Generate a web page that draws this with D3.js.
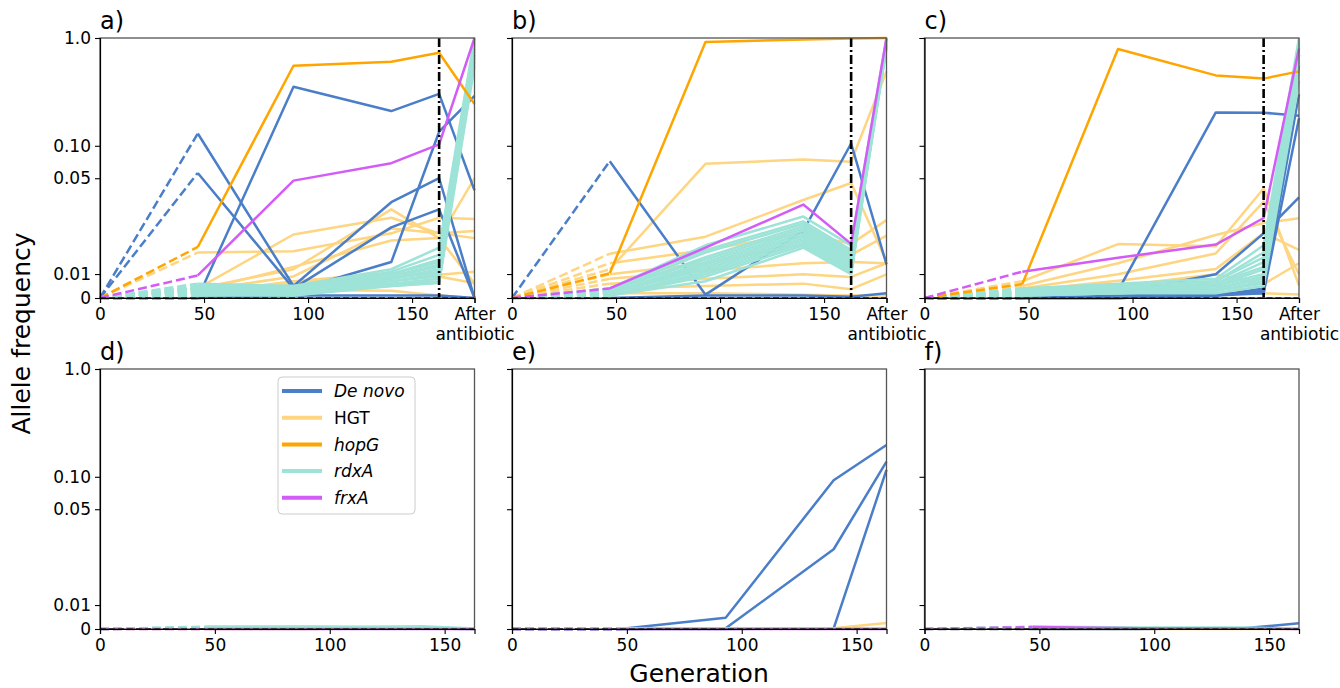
<!DOCTYPE html>
<html>
<head>
<meta charset="utf-8">
<script src="https://cdn.jsdelivr.net/npm/d3@7"></script>
<style>
  body { margin: 0; background: #fff; }
  text { font-family: "DejaVu Sans", sans-serif; }
</style>
</head>
<body>
<svg id="chart" width="1340" height="688"></svg>
<script>
// generations sampled; 180 stands for "After antibiotic"
const gensTop = [0, 47, 93, 140, 163, 180];
const gensBottom = [0, 47, 93, 140, 163];
const antibioticGen = 163;
const yTicks = [0, 0.01, 0.05, 0.1, 1];
const yTickLabels = ["0", "0.01", "0.05", "0.10", "1.0"];
const xTicksTop = [0, 50, 100, 150, 180];
const xTicksBottom = [0, 50, 100, 150];

// panel a
const aDeNovo = [
  [0, 0.13, 0.005, 0.04, 0.05, 0],
  [0, 0.056, 0.004, 0.0295, 0.037, 0],
  [0, 0, 0.353, 0.21, 0.303, 0.045],
  [0, 0, 0.003, 0.015, 0.135, 0.29],
  [0, 0, 0.001, 0.001, 0.001, 0]
];
const aHGT = [
  [0, 0.019, 0.0195, 0.027, 0.0335, 0.033],
  [0, 0.004, 0.0265, 0.0335, 0.027, 0.028],
  [0, 0.004, 0.012, 0.037, 0.025, 0.05],
  [0, 0.003, 0.009, 0.029, 0.027, 0.025],
  [0, 0.003, 0.013, 0.024, 0.025, 0.006],
  [0, 0.002, 0.006, 0.0105, 0.0097, 0.011],
  [0, 0.002, 0.0033, 0.003, 0.001, 0],
  [0, 0.002, 0.007, 0.0105, 0.009, 0.0062]
];
const aHopG = [[0, 0.0213, 0.553, 0.602, 0.73, 0.244]];
const aRdxA = [
  [0, 0.006, 0.005, 0.012, 0.021, 1.0],
  [0, 0.005, 0.004, 0.011, 0.018, 0.95],
  [0, 0.005, 0.005, 0.010, 0.016, 0.9],
  [0, 0.004, 0.004, 0.010, 0.015, 0.85],
  [0, 0.004, 0.003, 0.009, 0.014, 0.8],
  [0, 0.004, 0.004, 0.009, 0.013, 0.75],
  [0, 0.003, 0.003, 0.008, 0.012, 0.7],
  [0, 0.003, 0.003, 0.008, 0.011, 0.65],
  [0, 0.003, 0.002, 0.007, 0.010, 0.6],
  [0, 0.002, 0.002, 0.007, 0.009, 0.9],
  [0, 0.002, 0.002, 0.006, 0.008, 0.8],
  [0, 0.002, 0.001, 0.006, 0.007, 0.7],
  [0, 0.001, 0.001, 0.005, 0.0065, 0.95],
  [0, 0.001, 0.002, 0.005, 0.0063, 0.55]
];
const aFrxA = [[0, 0.0094, 0.049, 0.069, 0.103, 1.0]];

// panel b
const bDeNovo = [
  [0, 0.072, 0.0014, 0.028, 0.105, 0.014],
  [0, 0, 0.001, 0.001, 0.0005, 0.002]
];
const bHGT = [
  [0, 0.012, 0.068, 0.0747, 0.071, 0.49],
  [0, 0.0185, 0.0256, 0.0409, 0.048, 0.0153],
  [0, 0.0145, 0.02, 0.027, 0.0226, 0.0325],
  [0, 0.0099, 0.0145, 0.0225, 0.018, 0.026],
  [0, 0.008, 0.0115, 0.0145, 0.015, 0.0145],
  [0, 0.006, 0.008, 0.0099, 0.0088, 0.0145],
  [0, 0.004, 0.005, 0.006, 0.0037, 0.0099],
  [0, 0.002, 0.002, 0.0014, 0.001, 0.001]
];
const bHopG = [[0, 0.0103, 0.918, 0.97, 0.99, 1.0]];
const bRdxA = [
  [0, 0.004, 0.022, 0.034, 0.022, 1.0],
  [0, 0.004, 0.020, 0.032, 0.020, 0.97],
  [0, 0.003, 0.019, 0.031, 0.019, 0.95],
  [0, 0.003, 0.017, 0.030, 0.018, 0.92],
  [0, 0.003, 0.016, 0.029, 0.017, 0.9],
  [0, 0.002, 0.015, 0.028, 0.016, 0.88],
  [0, 0.002, 0.014, 0.027, 0.015, 0.86],
  [0, 0.002, 0.013, 0.026, 0.014, 0.84],
  [0, 0.002, 0.012, 0.025, 0.013, 0.82],
  [0, 0.001, 0.011, 0.024, 0.012, 0.8],
  [0, 0.001, 0.010, 0.023, 0.011, 0.9],
  [0, 0.001, 0.009, 0.022, 0.010, 0.95],
  [0, 0.001, 0.007, 0.021, 0.010, 0.85]
];
const bFrxA = [[0, 0.004, 0.021, 0.039, 0.0226, 1.0]];

// panel c
const cDeNovo = [
  [0, 0, 0.003, 0.204, 0.203, 0.19],
  [0, 0, 0.002, 0.0099, 0.027, 0.042],
  [0, 0, 0, 0.001, 0.004, 0.55],
  [0, 0, 0, 0.001, 0.003, 0.3],
  [0, 0, 0.001, 0.002, 0.002, 0.7],
  [0, 0, 0, 0.001, 0.002, 0.18]
];
const cHGT = [
  [0, 0.007, 0.0225, 0.0216, 0.0457, 0.0052],
  [0, 0.005, 0.0145, 0.0263, 0.0313, 0.0333],
  [0, 0.004, 0.0099, 0.0186, 0.0402, 0.0099],
  [0, 0.003, 0.0072, 0.0121, 0.0271, 0.0201],
  [0, 0.002, 0.005, 0.0099, 0.0058, 0.0145],
  [0, 0.001, 0.003, 0.005, 0.002, 0.0015]
];
const cHopG = [[0, 0.0058, 0.79, 0.45, 0.42, 0.49]];
const cRdxA = [
  [0, 0.004, 0.006, 0.008, 0.022, 1.0],
  [0, 0.004, 0.005, 0.007, 0.019, 0.95],
  [0, 0.003, 0.005, 0.007, 0.017, 0.9],
  [0, 0.003, 0.004, 0.006, 0.015, 0.85],
  [0, 0.003, 0.004, 0.006, 0.013, 0.8],
  [0, 0.002, 0.004, 0.005, 0.012, 0.75],
  [0, 0.002, 0.003, 0.005, 0.010, 0.7],
  [0, 0.002, 0.003, 0.004, 0.009, 0.65],
  [0, 0.002, 0.003, 0.004, 0.008, 0.6],
  [0, 0.001, 0.002, 0.003, 0.007, 0.5],
  [0, 0.001, 0.002, 0.003, 0.006, 0.9],
  [0, 0.001, 0.002, 0.002, 0.005, 0.4]
];
const cFrxA = [[0, 0.011, 0.0168, 0.0223, 0.0334, 0.80]];

// panels d, e, f (no antibiotic)
const dDeNovo = [[0, 0.0004, 0.0006, 0.0002, 0]];
const dHGT = [[0, 0, 0, 0.0008, 0]];
const dRdxA = [
  [0, 0.001, 0.001, 0.0003, 0],
  [0, 0.0008, 0.0009, 0.0008, 0],
  [0, 0.0005, 0.0006, 0.0012, 0.0002]
];
const dFrxA = [[0, 0, 0, 0, 0]];
const eDeNovo = [
  [0, 0, 0.0047, 0.093, 0.197],
  [0, 0, 0.0003, 0.0333, 0.138],
  [0, 0, 0, 0.0003, 0.116]
];
const eHGT = [[0, 0, 0.0003, 0.0003, 0.0025]];
const eRdxA = [[0, 0.0003, 0.0003, 0.0003, 0.0002]];
const eFrxA = [[0, 0, 0, 0, 0]];
const fDeNovo = [[0, 0, 0, 0.0004, 0.0024]];
const fHGT = [[0, 0, 0, 0, 0]];
const fRdxA = [[0, 0.001, 0.0006, 0.0006, 0]];
const fFrxA = [[0, 0.0008, 0.0003, 0.0002, 0]];

const legendNames = ["De novo", "HGT", "hopG", "rdxA", "frxA"];
const legendKeys = ["deNovo", "hgt", "hopG", "rdxA", "frxA"];
const colors = { deNovo: "#4a7ec8", hgt: "#fed581", hopG: "#ffa500", rdxA: "#9ee3d8", frxA: "#d35cf6" };
const drawOrder = ["hgt", "deNovo", "rdxA", "hopG", "frxA"];

const panels = [
  { label: "a)", col: 0, row: 0, gens: gensTop, deNovo: aDeNovo, hgt: aHGT, hopG: aHopG, rdxA: aRdxA, frxA: aFrxA },
  { label: "b)", col: 1, row: 0, gens: gensTop, deNovo: bDeNovo, hgt: bHGT, hopG: bHopG, rdxA: bRdxA, frxA: bFrxA },
  { label: "c)", col: 2, row: 0, gens: gensTop, deNovo: cDeNovo, hgt: cHGT, hopG: cHopG, rdxA: cRdxA, frxA: cFrxA },
  { label: "d)", col: 0, row: 1, gens: gensBottom, deNovo: dDeNovo, hgt: dHGT, hopG: [], rdxA: dRdxA, frxA: dFrxA },
  { label: "e)", col: 1, row: 1, gens: gensBottom, deNovo: eDeNovo, hgt: eHGT, hopG: [], rdxA: eRdxA, frxA: eFrxA },
  { label: "f)", col: 2, row: 1, gens: gensBottom, deNovo: fDeNovo, hgt: fHGT, hopG: [], rdxA: fRdxA, frxA: fFrxA }
];

// matplotlib-style symlog, linthresh 0.05, linscale 1
const linthresh = 0.05, linscale = 1 / (1 - 1 / 10);
const symlog = v => v <= linthresh ? v / linthresh * linscale : linscale + Math.log10(v / linthresh);

const colX = [100, 512, 924.5];
const rowY = [38, 369];
const pw = 374.5, ph = 260;

const svg = d3.select("#chart");

panels.forEach(p => {
  const g = svg.append("g").attr("transform", `translate(${colX[p.col]},${rowY[p.row]})`);
  const xScale = d3.scaleLinear().domain([0, d3.max(p.gens)]).range([0, pw]);
  const yLin = d3.scaleLinear().domain([0, symlog(1)]).range([ph, 0]);
  const yScale = v => yLin(symlog(v));

  const line = d3.line().x(d => xScale(d[0])).y(d => yScale(d[1]));

  drawOrder.forEach(key => {
    p[key].forEach(vals => {
      const pts = vals.map((v, i) => [p.gens[i], v]);
      // first interval is dashed, the rest solid
      g.append("path")
        .attr("d", line(pts.slice(0, 2)))
        .attr("fill", "none")
        .attr("stroke", colors[key])
        .attr("stroke-width", 2.5)
        .attr("stroke-dasharray", "9,4");
      g.append("path")
        .attr("d", line(pts.slice(1)))
        .attr("fill", "none")
        .attr("stroke", colors[key])
        .attr("stroke-width", 2.5)
        .attr("stroke-linejoin", "round");
    });
  });

  // zero line
  g.append("line")
    .attr("x1", 0).attr("x2", pw)
    .attr("y1", yScale(0)).attr("y2", yScale(0))
    .attr("stroke", "#000").attr("stroke-width", 1.8)
    .attr("stroke-dasharray", "6,3");

  if (p.row === 0) {
    g.append("line")
      .attr("x1", xScale(antibioticGen)).attr("x2", xScale(antibioticGen))
      .attr("y1", 0).attr("y2", ph)
      .attr("stroke", "#000").attr("stroke-width", 2.6)
      .attr("stroke-dasharray", "9,3,2,3");
  }

  g.append("rect")
    .attr("width", pw).attr("height", ph)
    .attr("fill", "none").attr("stroke", "#555").attr("stroke-width", 1.3);

  const yAxis = d3.axisLeft(yLin)
    .tickValues(yTicks.map(symlog))
    .tickSize(5).tickPadding(4)
    .tickFormat((d, i) => p.col === 0 ? yTickLabels[i] : "");
  const ya = g.append("g").call(yAxis);

  const xTicks = p.row === 0 ? xTicksTop : xTicksBottom;
  const xAxis = d3.axisBottom(xScale)
    .tickValues(xTicks)
    .tickSize(5).tickPadding(5)
    .tickFormat(d => d === 180 ? "" : d);
  const xa = g.append("g").attr("transform", `translate(0,${ph})`).call(xAxis);

  [ya, xa].forEach(a => {
    a.selectAll("text").attr("font-size", 17).attr("fill", "#000").style("font-family", "DejaVu Sans");
    a.selectAll("line").attr("stroke", "#000").attr("stroke-width", 1.1);
    a.select(".domain").attr("stroke", "#000").attr("stroke-width", 1.2);
  });

  if (p.row === 0) {
    const t = xa.selectAll(".tick").filter(d => d === 180).select("text");
    t.text(null);
    t.append("tspan").attr("x", 0).attr("dy", "0.71em").text("After");
    t.append("tspan").attr("x", 0).attr("dy", "1.15em").text("antibiotic");
    t.attr("dy", null);
  }

  g.append("text")
    .attr("x", 0).attr("y", -9)
    .attr("font-size", 24)
    .text(p.label);

  if (p.label === "d)") {
    const lg = g.append("g").attr("transform", `translate(${278 - colX[0]},${377 - rowY[1]})`);
    lg.append("rect")
      .attr("width", 137).attr("height", 137).attr("rx", 4)
      .attr("fill", "#fff").attr("fill-opacity", 0.8)
      .attr("stroke", "#ccc").attr("stroke-width", 1);
    legendKeys.forEach((k, i) => {
      const yy = 14 + i * 26.7;
      lg.append("line")
        .attr("x1", 4).attr("x2", 44).attr("y1", yy).attr("y2", yy)
        .attr("stroke", colors[k]).attr("stroke-width", 4);
      lg.append("text")
        .attr("x", 56).attr("y", yy).attr("dy", "0.36em")
        .attr("font-size", 17)
        .attr("font-style", k === "hgt" ? "normal" : "italic")
        .text(legendNames[i]);
    });
  }
});

svg.append("text")
  .attr("transform", "translate(30,333.5) rotate(-90)")
  .attr("text-anchor", "middle")
  .attr("font-size", 25)
  .text("Allele frequency");

svg.append("text")
  .attr("x", 699).attr("y", 682)
  .attr("text-anchor", "middle")
  .attr("font-size", 25)
  .text("Generation");
</script>
</body>
</html>
